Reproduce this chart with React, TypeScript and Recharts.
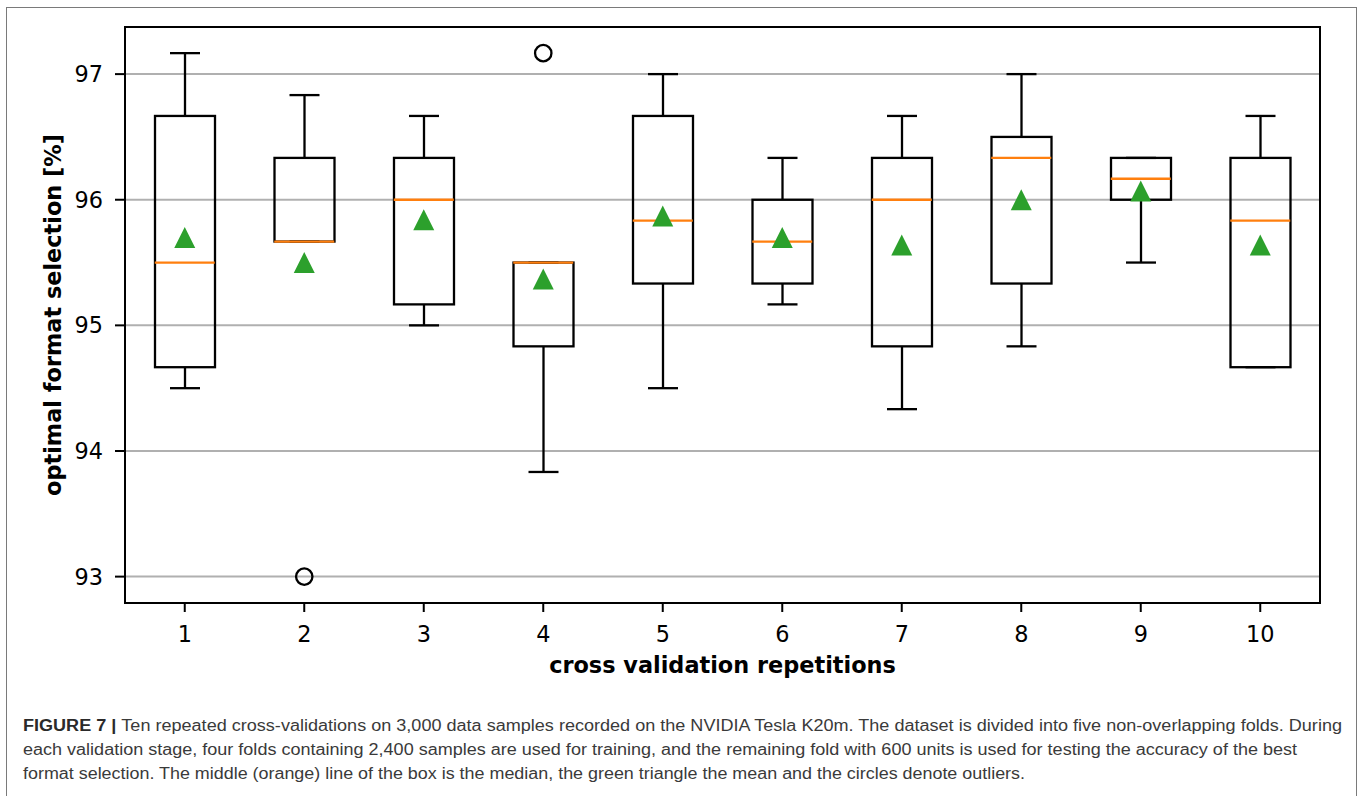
import { ComposedChart, Bar, Scatter, XAxis, YAxis, CartesianGrid, ReferenceArea } from 'recharts'

// values (percent, 600-sample folds -> steps of 1/6)
const reps = [1, 2, 3, 4, 5, 6, 7, 8, 9, 10]
const whiskerLow = [94.5, 95.667, 95.0, 93.833, 94.5, 95.167, 94.333, 94.833, 95.5, 94.667]
const q1 = [94.667, 95.667, 95.167, 94.833, 95.333, 95.333, 94.833, 95.333, 96.0, 94.667]
const medians = [95.5, 95.667, 96.0, 95.5, 95.833, 95.667, 96.0, 96.333, 96.167, 95.833]
const q3 = [96.667, 96.333, 96.333, 95.5, 96.667, 96.0, 96.333, 96.5, 96.333, 96.333]
const whiskerHigh = [97.167, 96.833, 96.667, 95.5, 97.0, 96.333, 96.667, 97.0, 96.333, 96.667]
const means = [95.7, 95.5, 95.84, 95.37, 95.87, 95.7, 95.64, 96.0, 96.07, 95.64]
const outlierReps = [2, 4]
const outlierValues = [93.0, 97.167]
const yTicks = [93, 94, 95, 96, 97]
const xDomain = [0.5, 10.5]
const yDomain = [92.79, 97.375]

const captionLines = [
  'Ten repeated cross-validations on 3,000 data samples recorded on the NVIDIA Tesla K20m. The dataset is divided into five non-overlapping folds. During',
  'each validation stage, four folds containing 2,400 samples are used for training, and the remaining fold with 600 units is used for testing the accuracy of the best',
  'format selection. The middle (orange) line of the box is the median, the green triangle the mean and the circles denote outliers.',
]

const data = reps.map((rep, i) => ({
  rep,
  low: whiskerLow[i],
  q1: q1[i],
  median: medians[i],
  q3: q3[i],
  high: whiskerHigh[i],
  mean: means[i],
}))
const outliers = outlierReps.map((rep, i) => ({ rep, value: outlierValues[i] }))

const FONT = 'DejaVu Sans'
const LW = 2.3

function span(p: any) {
  const top = Math.min(p.y, p.y + p.height)
  const bottom = Math.max(p.y, p.y + p.height)
  return { top, bottom, cx: p.x + p.width / 2 }
}

function BoxShape(p: any) {
  const { top, bottom } = span(p)
  return <rect x={p.x} y={top} width={p.width} height={bottom - top} fill="none" stroke="#000" strokeWidth={LW} />
}

function UpperWhisker(p: any) {
  const { top, bottom, cx } = span(p)
  return (
    <g stroke="#000" strokeWidth={LW}>
      <line x1={cx} x2={cx} y1={top} y2={bottom} />
      <line x1={p.x} x2={p.x + p.width} y1={top} y2={top} />
    </g>
  )
}

function LowerWhisker(p: any) {
  const { top, bottom, cx } = span(p)
  return (
    <g stroke="#000" strokeWidth={LW}>
      <line x1={cx} x2={cx} y1={top} y2={bottom} />
      <line x1={p.x} x2={p.x + p.width} y1={bottom} y2={bottom} />
    </g>
  )
}

function MedianShape({ cx, cy }: any) {
  return <line x1={cx - 30} x2={cx + 30} y1={cy} y2={cy} stroke="#ff7f0e" strokeWidth={LW} />
}

function MeanShape({ cx, cy }: any) {
  const s = 10.5
  return <path d={`M${cx},${cy - s}L${cx + s},${cy + s}L${cx - s},${cy + s}Z`} fill="#2ca02c" />
}

function OutlierShape({ cx, cy }: any) {
  return <circle cx={cx} cy={cy} r={8.2} fill="none" stroke="#000" strokeWidth={LW} />
}

// extra hidden axes so each bar series gets its own centred slot
const hiddenX = (id: string) => (
  <XAxis xAxisId={id} dataKey="rep" type="number" domain={xDomain} ticks={reps} allowDataOverflow hide height={0} />
)

export default function App() {
  const tick = { fill: '#000', fontSize: 22.4, fontFamily: FONT }
  return (
    <div style={{ position: 'absolute', left: 0, top: 0, width: 1358, height: 796, overflow: 'hidden', background: '#fff' }}>
      <div
        style={{
          position: 'absolute',
          left: 6,
          top: 7,
          width: 1349,
          height: 900,
          borderLeft: '1.5px solid #7a7a7a',
          borderTop: '1.5px solid #7a7a7a',
          borderRight: '1.5px solid #7a7a7a',
        }}
      />
      <div style={{ position: 'absolute', left: 0, top: 0 }}>
        <ComposedChart width={1358} height={700} data={data} margin={{ top: 27, right: 38, bottom: 17, left: 0 }}>
          <CartesianGrid xAxisId="main" vertical={false} stroke="#b0b0b0" strokeWidth={2} />
          <XAxis
            xAxisId="main"
            dataKey="rep"
            type="number"
            domain={xDomain}
            ticks={reps}
            allowDataOverflow
            height={80}
            tickSize={9}
            tickMargin={14}
            tick={tick}
            tickLine={{ stroke: '#000', strokeWidth: 2 }}
            axisLine={{ stroke: '#000', strokeWidth: 2 }}
            label={{
              value: 'cross validation repetitions',
              position: 'insideBottom',
              offset: 10,
              fill: '#000',
              fontSize: 22.4,
              fontWeight: 'bold',
              fontFamily: FONT,
            }}
          />
          {hiddenX('box')}
          {hiddenX('up')}
          {hiddenX('down')}
          <YAxis
            type="number"
            domain={yDomain}
            ticks={yTicks}
            allowDataOverflow
            width={125}
            tickSize={10}
            tickMargin={12}
            tick={tick}
            tickLine={{ stroke: '#000', strokeWidth: 2 }}
            axisLine={{ stroke: '#000', strokeWidth: 2 }}
            label={{
              value: 'optimal format selection [%]',
              angle: -90,
              position: 'insideLeft',
              offset: 53,
              fill: '#000',
              fontSize: 22.4,
              fontWeight: 'bold',
              fontFamily: FONT,
              style: { textAnchor: 'middle' },
            }}
          />
          <ReferenceArea
            xAxisId="main"
            x1={xDomain[0]}
            x2={xDomain[1]}
            y1={yDomain[0]}
            y2={yDomain[1]}
            fill="none"
            fillOpacity={0}
            stroke="#000"
            strokeWidth={2}
            ifOverflow="visible"
          />
          <Bar xAxisId="up" dataKey={(d: any) => [d.q3, d.high]} barSize={30} shape={UpperWhisker} isAnimationActive={false} />
          <Bar xAxisId="down" dataKey={(d: any) => [d.low, d.q1]} barSize={30} shape={LowerWhisker} isAnimationActive={false} />
          <Bar xAxisId="box" dataKey={(d: any) => [d.q1, d.q3]} barSize={60} shape={BoxShape} isAnimationActive={false} />
          <Scatter xAxisId="main" dataKey="median" shape={MedianShape} isAnimationActive={false} />
          <Scatter xAxisId="main" dataKey="mean" shape={MeanShape} isAnimationActive={false} />
          <Scatter xAxisId="main" data={outliers} dataKey="value" shape={OutlierShape} isAnimationActive={false} />
        </ComposedChart>
      </div>
      <svg width={1358} height={796} style={{ position: 'absolute', left: 0, top: 0, pointerEvents: 'none' }}>
        <g fontFamily="'Liberation Sans', Arial, sans-serif" fontSize={16} fill="#3a3a3a">
          <text x={23} y={731} textLength={1319} lengthAdjust="spacingAndGlyphs">
            <tspan fontWeight="bold" fill="#2a2a2a">FIGURE 7 | </tspan>
            {captionLines[0]}
          </text>
          <text x={23} y={755} textLength={1274} lengthAdjust="spacingAndGlyphs">
            {captionLines[1]}
          </text>
          <text x={23} y={779} textLength={1002} lengthAdjust="spacingAndGlyphs">
            {captionLines[2]}
          </text>
        </g>
      </svg>
    </div>
  )
}
